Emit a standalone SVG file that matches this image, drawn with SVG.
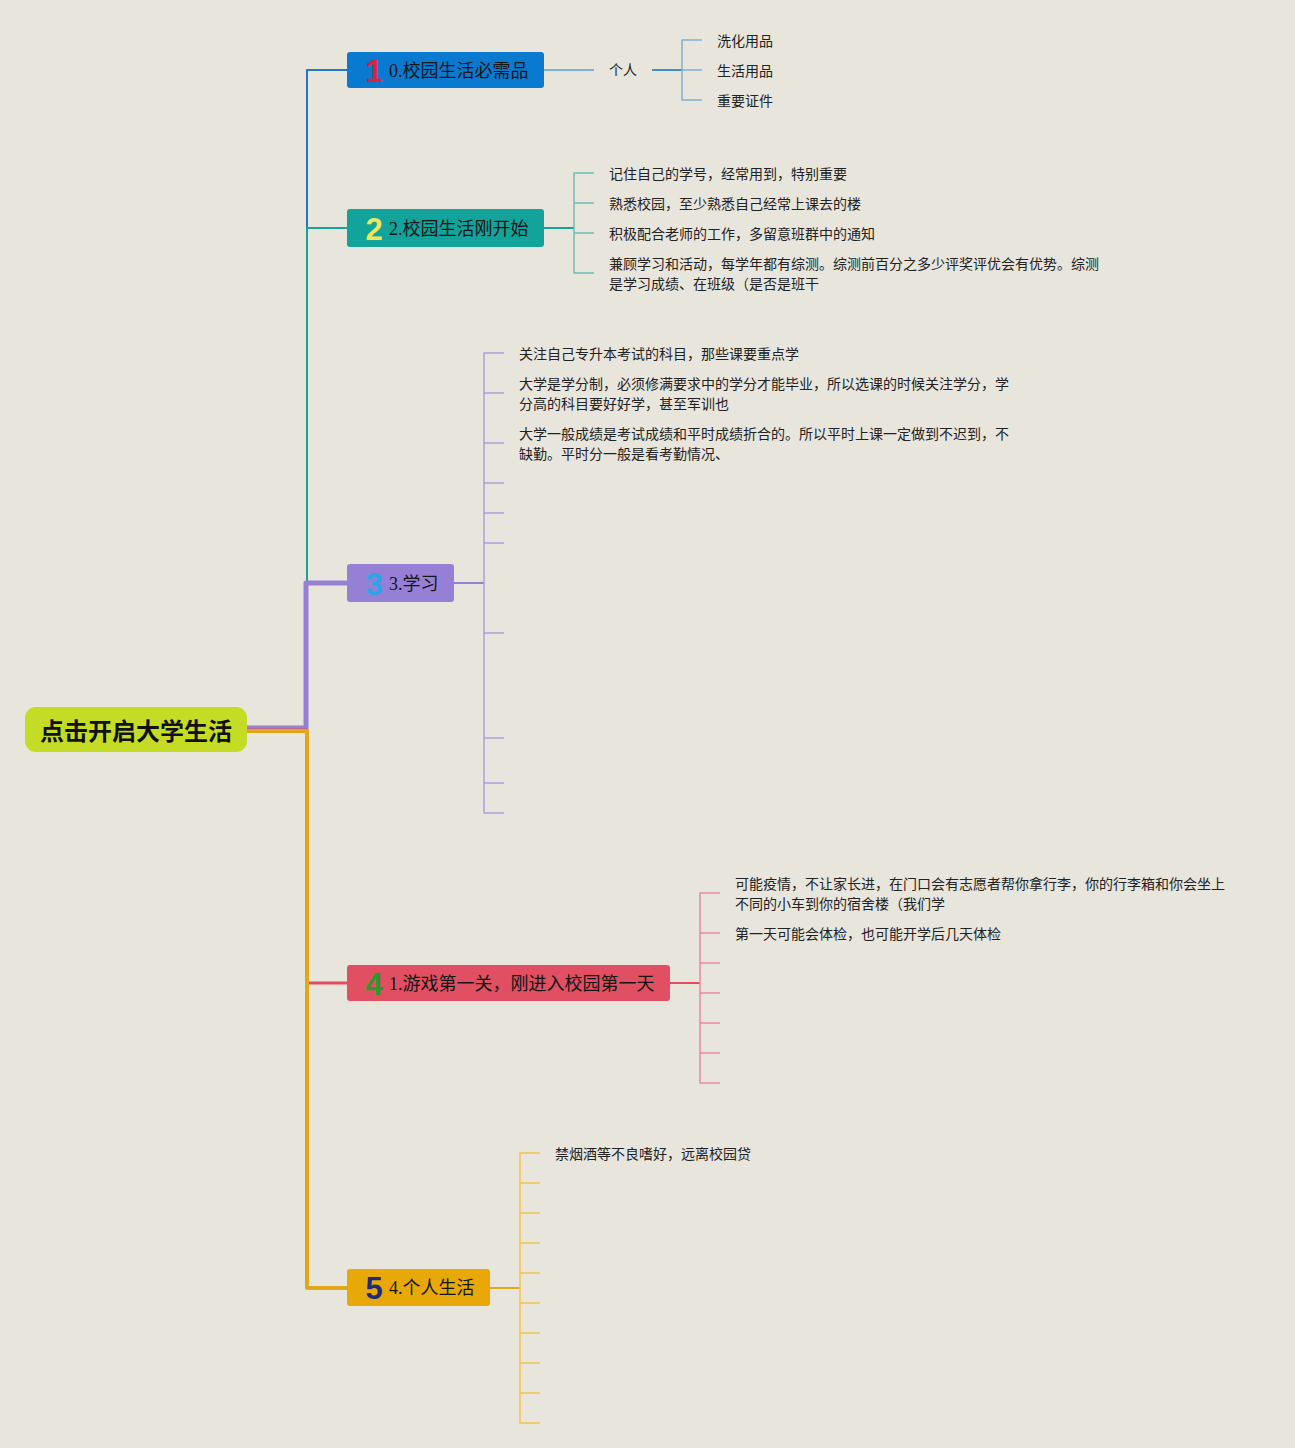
<svg xmlns="http://www.w3.org/2000/svg" width="1295" height="1448" viewBox="0 0 1295 1448">
<style>
.leaf{font-family:"Noto Sans CJK SC","Noto Sans",sans-serif;font-size:14px;fill:#222}
.lbl{font-family:"Liberation Serif","Noto Sans CJK SC",serif;font-size:18px;fill:#151515}
.num{font-family:"Liberation Sans","DejaVu Sans",sans-serif;font-size:31px;font-weight:bold;text-anchor:middle}
.c{fill:none;stroke-linecap:butt;stroke-linejoin:round}
</style>
<rect x="0" y="0" width="1295" height="1448" fill="#e8e5dc"/>
<g id="connectors">
  <path class="c" d="M247,729 H307 V70 H347" stroke="#1f7ac4" stroke-width="2"/>
  <path class="c" d="M247,729 H307 V228 H347" stroke="#16a39b" stroke-width="2"/>
  <path class="c" d="M247,728 H306 V583 H347" stroke="#9680d4" stroke-width="5"/>
  <path class="c" d="M247,730 H307 V983 H347" stroke="#e34d5e" stroke-width="3"/>
  <path class="c" d="M247,731 H307 V1288 H347" stroke="#e3a81a" stroke-width="4"/>
  <!-- branch 1 -->
  <path class="c" d="M544,70 H594" stroke="#7fb0d8" stroke-width="2"/>
  <path class="c" d="M652,70 H682" stroke="#3f8fc8" stroke-width="2"/>
  <path class="c" d="M702,40 H682 V100 H702 M682,70 H702" stroke="#7fb0d8" stroke-width="1.5"/>
  <!-- branch 2 -->
  <path class="c" d="M544,228 H574" stroke="#16a39b" stroke-width="2"/>
  <path class="c" d="M594,173 H574 V273 H594 M574,203 H594 M574,233 H594" stroke="#6cbdb8" stroke-width="1.5"/>
  <!-- branch 3 -->
  <path class="c" d="M454,583 H484" stroke="#9680d4" stroke-width="2"/>
  <path class="c" d="M504,353 H484 V813 H504 M484,393 H504 M484,443 H504 M484,483 H504 M484,513 H504 M484,543 H504 M484,633 H504 M484,738 H504 M484,783 H504" stroke="#ad9fdc" stroke-width="1.5"/>
  <!-- branch 4 -->
  <path class="c" d="M670,983 H700" stroke="#e34d5e" stroke-width="2"/>
  <path class="c" d="M720,893 H700 V1083 H720 M700,933 H720 M700,963 H720 M700,993 H720 M700,1023 H720 M700,1053 H720" stroke="#eb8a98" stroke-width="1.5"/>
  <!-- branch 5 -->
  <path class="c" d="M490,1288 H520" stroke="#e3a81a" stroke-width="2"/>
  <path class="c" d="M540,1153 H520 V1423 H540 M520,1183 H540 M520,1213 H540 M520,1243 H540 M520,1273 H540 M520,1303 H540 M520,1333 H540 M520,1363 H540 M520,1393 H540" stroke="#f0c452" stroke-width="1.5"/>
</g>
<g id="root">
  <rect x="25" y="707" width="222" height="45" rx="11" fill="#c5dc26"/>
  <text x="136" y="740" text-anchor="middle" font-family="'Noto Sans CJK SC',sans-serif" font-size="24" font-weight="bold" fill="#111">点击开启大学生活</text>
</g>
<g id="n1">
  <rect x="347" y="52" width="197" height="36" rx="3" fill="#0a7ad0"/>
  <text class="num" x="374" y="82" fill="#e0203a">1</text>
  <text class="lbl" x="389" y="77">0.校园生活必需品</text>
</g>
<g id="n1-sub">
  <text class="leaf" x="609" y="75">个人</text>
  <text class="leaf" x="717" y="46">洗化用品</text>
  <text class="leaf" x="717" y="76">生活用品</text>
  <text class="leaf" x="717" y="106">重要证件</text>
</g>
<g id="n2">
  <rect x="347" y="209" width="197" height="38" rx="3" fill="#12a39a"/>
  <text class="num" x="374" y="240" fill="#f3e55a">2</text>
  <text class="lbl" x="389" y="235">2.校园生活刚开始</text>
</g>
<g id="n2-sub">
  <text class="leaf" x="609" y="179">记住自己的学号，经常用到，特别重要</text>
  <text class="leaf" x="609" y="209">熟悉校园，至少熟悉自己经常上课去的楼</text>
  <text class="leaf" x="609" y="239">积极配合老师的工作，多留意班群中的通知</text>
  <text class="leaf" x="609" y="269">兼顾学习和活动，每学年都有综测。综测前百分之多少评奖评优会有优势。综测</text>
  <text class="leaf" x="609" y="289">是学习成绩、在班级（是否是班干</text>
</g>
<g id="n3">
  <rect x="347" y="564" width="107" height="38" rx="3" fill="#9580d6"/>
  <text class="num" x="374" y="595" fill="#2aa6e6">3</text>
  <text class="lbl" x="389" y="590">3.学习</text>
</g>
<g id="n3-sub">
  <text class="leaf" x="519" y="359">关注自己专升本考试的科目，那些课要重点学</text>
  <text class="leaf" x="519" y="389">大学是学分制，必须修满要求中的学分才能毕业，所以选课的时候关注学分，学</text>
  <text class="leaf" x="519" y="409">分高的科目要好好学，甚至军训也</text>
  <text class="leaf" x="519" y="439">大学一般成绩是考试成绩和平时成绩折合的。所以平时上课一定做到不迟到，不</text>
  <text class="leaf" x="519" y="459">缺勤。平时分一般是看考勤情况、</text>
</g>
<g id="n4">
  <rect x="347" y="965" width="323" height="36" rx="3" fill="#e05062"/>
  <text class="num" x="374" y="995" fill="#2a9a2a">4</text>
  <text class="lbl" x="389" y="990">1.游戏第一关，刚进入校园第一天</text>
</g>
<g id="n4-sub">
  <text class="leaf" x="735" y="889">可能疫情，不让家长进，在门口会有志愿者帮你拿行李，你的行李箱和你会坐上</text>
  <text class="leaf" x="735" y="909">不同的小车到你的宿舍楼（我们学</text>
  <text class="leaf" x="735" y="939">第一天可能会体检，也可能开学后几天体检</text>
</g>
<g id="n5">
  <rect x="347" y="1269" width="143" height="37" rx="3" fill="#e9a80a"/>
  <text class="num" x="374" y="1299" fill="#1e2a7a">5</text>
  <text class="lbl" x="389" y="1294">4.个人生活</text>
</g>
<g id="n5-sub">
  <text class="leaf" x="555" y="1159">禁烟酒等不良嗜好，远离校园贷</text>
</g>
</svg>
